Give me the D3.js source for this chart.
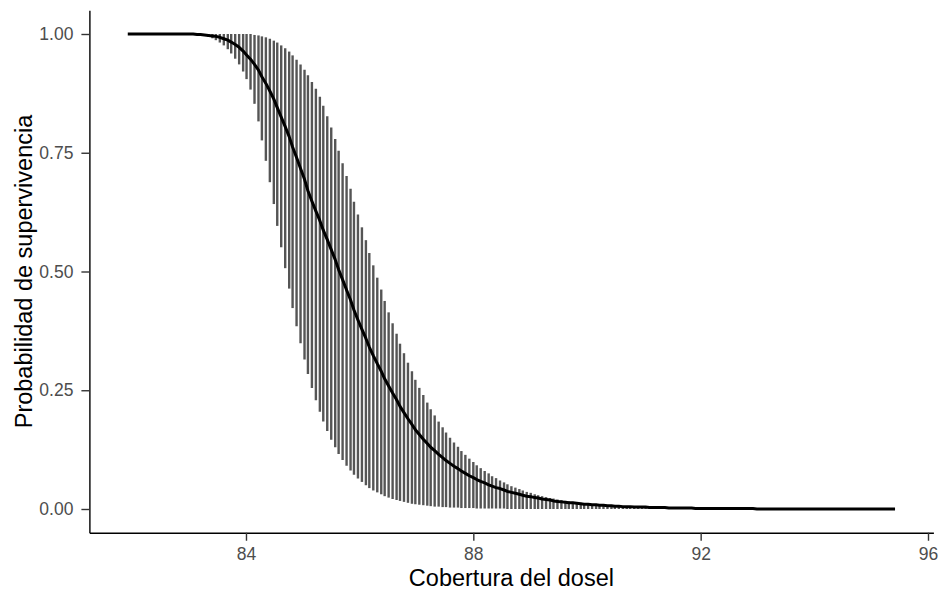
<!DOCTYPE html>
<html>
<head>
<meta charset="utf-8">
<script src="https://cdn.jsdelivr.net/npm/d3@7"></script>
<style>
  html, body { margin: 0; padding: 0; background: #ffffff; }
  svg { display: block; }
</style>
</head>
<body>
<script>
// ---------------- data ----------------
const coverage = [
81.92,81.99,82.06,82.12,82.19,82.26,82.33,82.39,82.46,82.53,
82.60,82.66,82.73,82.80,82.87,82.93,83.00,83.07,83.14,83.20,
83.27,83.34,83.41,83.47,83.54,83.61,83.68,83.74,83.81,83.88,
83.95,84.01,84.08,84.15,84.22,84.28,84.35,84.42,84.49,84.55,
84.62,84.69,84.76,84.82,84.89,84.96,85.03,85.09,85.16,85.23,
85.30,85.36,85.43,85.50,85.57,85.63,85.70,85.77,85.84,85.90,
85.97,86.04,86.11,86.17,86.24,86.31,86.38,86.44,86.51,86.58,
86.65,86.71,86.78,86.85,86.92,86.98,87.05,87.12,87.19,87.25,
87.32,87.39,87.46,87.52,87.59,87.66,87.73,87.79,87.86,87.93,
88.00,88.06,88.13,88.20,88.27,88.33,88.40,88.47,88.54,88.60,
88.67,88.74,88.81,88.87,88.94,89.01,89.08,89.14,89.21,89.28,
89.35,89.41,89.48,89.55,89.62,89.68,89.75,89.82,89.89,89.95,
90.02,90.09,90.16,90.22,90.29,90.36,90.43,90.49,90.56,90.63,
90.70,90.76,90.83,90.90,90.97,91.03,91.10,91.17,91.24,91.30,
91.37,91.44,91.51,91.57,91.64,91.71,91.78,91.84,91.91,91.98,
92.05,92.11,92.18,92.25,92.32,92.38,92.45,92.52,92.59,92.65,
92.72,92.79,92.86,92.92,92.99,93.06,93.13,93.19,93.26,93.33,
93.40,93.46,93.53,93.60,93.67,93.73,93.80,93.87,93.94,94.00,
94.07,94.14,94.21,94.27,94.34,94.41,94.48,94.54,94.61,94.68,
94.75,94.81,94.88,94.95,95.02,95.08,95.15,95.22,95.29,95.35,
95.42];

const fitted = [
1,1,1,1,1,1,1,1,1,1,
1,1,1,1,1,1,1,1,0.999,0.999,
0.998,0.997,0.996,0.995,0.993,0.990,0.987,0.983,0.978,0.972,
0.964,0.956,0.947,0.936,0.924,0.910,0.896,0.880,0.863,0.845,
0.825,0.805,0.784,0.762,0.740,0.717,0.694,0.670,0.648,0.627,
0.607,0.587,0.567,0.546,0.525,0.504,0.483,0.461,0.440,0.419,
0.398,0.378,0.359,0.341,0.323,0.306,0.290,0.274,0.259,0.244,
0.230,0.216,0.203,0.190,0.178,0.167,0.157,0.147,0.138,0.130,
0.123,0.115,0.108,0.102,0.096,0.090,0.085,0.080,0.075,0.070,
0.066,0.062,0.058,0.055,0.051,0.048,0.045,0.043,0.040,0.037,
0.035,0.033,0.031,0.029,0.027,0.026,0.024,0.023,0.021,0.020,
0.019,0.017,0.016,0.015,0.014,0.013,0.013,0.012,0.011,0.010,
0.010,0.009,0.009,0.008,0.008,0.007,0.007,0.006,0.006,0.005,
0.005,0.005,0.004,0.004,0.004,0.004,0.003,0.003,0.003,0.003,
0.003,0.002,0.002,0.002,0.002,0.002,0.002,0.002,0.001,0.001,
0.001,0.001,0.001,0.001,0.001,0.001,0.001,0.001,0.001,0.001,
0.001,0.001,0.001,0.001,0,0,0,0,0,0,
0,0,0,0,0,0,0,0,0,0,
0,0,0,0,0,0,0,0,0,0,
0,0,0,0,0,0,0,0,0,0,
0];

const lowerCI = [
1,1,1,1,1,1,1,1,1,1,
1,1,1,1,1,1,1,0.999,0.998,0.997,
0.996,0.994,0.991,0.987,0.982,0.976,0.968,0.959,0.948,0.936,
0.921,0.905,0.883,0.853,0.816,0.776,0.733,0.688,0.642,0.596,
0.551,0.507,0.464,0.423,0.385,0.349,0.315,0.284,0.255,0.229,
0.205,0.184,0.164,0.146,0.130,0.116,0.103,0.091,0.081,0.072,
0.064,0.057,0.050,0.044,0.039,0.035,0.031,0.027,0.024,0.021,
0.019,0.017,0.015,0.013,0.011,0.010,0.009,0.008,0.007,0.006,
0.005,0.005,0.004,0.004,0.003,0.003,0.003,0.002,0.002,0.002,
0.002,0.001,0.001,0.001,0.001,0.001,0.001,0.001,0.001,0,
0,0,0,0,0,0,0,0,0,0,
0,0,0,0,0,0,0,0,0,0,
0,0,0,0,0,0,0,0,0,0,
0,0,0,0,0,0,0,0,0,0,
0,0,0,0,0,0,0,0,0,0,
0,0,0,0,0,0,0,0,0,0,
0,0,0,0,0,0,0,0,0,0,
0,0,0,0,0,0,0,0,0,0,
0,0,0,0,0,0,0,0,0,0,
0,0,0,0,0,0,0,0,0,0,
0];

const upperCI = [
1,1,1,1,1,1,1,1,1,1,
1,1,1,1,1,1,1,1,1,1,
1,1,1,1,1,1,1,1,1,1,
1,1,1,0.998,0.997,0.995,0.993,0.990,0.986,0.982,
0.976,0.970,0.963,0.955,0.946,0.936,0.925,0.913,0.899,0.885,
0.868,0.849,0.827,0.803,0.779,0.754,0.728,0.701,0.674,0.647,
0.620,0.593,0.566,0.539,0.513,0.487,0.462,0.438,0.414,0.391,
0.369,0.348,0.328,0.308,0.290,0.272,0.255,0.240,0.224,0.210,
0.197,0.184,0.172,0.161,0.150,0.140,0.131,0.122,0.114,0.106,
0.099,0.092,0.086,0.080,0.075,0.069,0.065,0.060,0.056,0.052,
0.048,0.045,0.042,0.039,0.036,0.034,0.031,0.029,0.027,0.025,
0.023,0.022,0.020,0.019,0.017,0.016,0.015,0.014,0.013,0.012,
0.011,0.010,0.010,0.009,0.008,0.008,0.007,0.007,0.006,0.006,
0.005,0.005,0.005,0.004,0.004,0.004,0.003,0.003,0.003,0.003,
0.003,0.002,0.002,0.002,0.002,0.002,0.002,0.002,0.001,0.001,
0.001,0.001,0.001,0.001,0.001,0.001,0.001,0.001,0.001,0.001,
0.001,0.001,0.001,0.001,0,0,0,0,0,0,
0,0,0,0,0,0,0,0,0,0,
0,0,0,0,0,0,0,0,0,0,
0,0,0,0,0,0,0,0,0,0,
0];

const xTickValues = [84, 88, 92, 96];
const yTickValues = [0, 0.25, 0.5, 0.75, 1];
const xTitle = "Cobertura del dosel";
const yTitle = "Probabilidad de supervivencia";

// ---------------- layout ----------------
const W = 942, H = 595;
const panel = { left: 89.4, right: 933.4, top: 10.25, bottom: 532.75 };
const FONT = "'Liberation Sans', Arial, Helvetica, sans-serif";

const svg = d3.select("body").append("svg")
  .attr("width", W).attr("height", H)
  .attr("viewBox", `0 0 ${W} ${H}`);
svg.append("rect").attr("width", W).attr("height", H).attr("fill", "#ffffff");

const xExt = d3.extent(coverage);
const xPad = (xExt[1] - xExt[0]) * 0.05;
const x = d3.scaleLinear()
  .domain([xExt[0] - xPad, xExt[1] + xPad])
  .range([panel.left, panel.right]);
const y = d3.scaleLinear()
  .domain([-0.05, 1.05])
  .range([panel.bottom, panel.top]);

const rows = coverage.map((c, i) => ({ c, fit: fitted[i], lo: lowerCI[i], hi: upperCI[i] }));

// error bars
svg.append("g").attr("class", "bars")
  .selectAll("line").data(rows).join("line")
  .attr("x1", d => x(d.c)).attr("x2", d => x(d.c))
  .attr("y1", d => y(d.lo)).attr("y2", d => y(d.hi))
  .attr("stroke", "#555555")
  .attr("stroke-width", 2.4);

// fitted curve
svg.append("path")
  .datum(rows)
  .attr("fill", "none")
  .attr("stroke", "#000000")
  .attr("stroke-width", 3)
  .attr("stroke-linejoin", "round")
  .attr("stroke-linecap", "butt")
  .attr("d", d3.line().x(d => x(d.c)).y(d => y(d.fit)));

// axes
const xAxis = svg.append("g")
  .attr("transform", `translate(0,${panel.bottom})`)
  .call(d3.axisBottom(x).tickValues(xTickValues).tickFormat(d3.format("d"))
    .tickSizeInner(8).tickSizeOuter(0).tickPadding(7));
const yAxis = svg.append("g")
  .attr("transform", `translate(${panel.left},0)`)
  .call(d3.axisLeft(y).tickValues(yTickValues).tickFormat(d3.format(".2f"))
    .tickSizeInner(8).tickSizeOuter(0).tickPadding(8));

[xAxis, yAxis].forEach(g => {
  g.select(".domain").attr("stroke", "#000000").attr("stroke-width", 1.4);
  g.selectAll(".tick line").attr("stroke", "#333333").attr("stroke-width", 1.4);
  g.selectAll(".tick text")
    .attr("fill", "#4d4d4d")
    .style("font-family", FONT)
    .style("font-size", "17.5px");
});

// titles
svg.append("text")
  .attr("x", (panel.left + panel.right) / 2)
  .attr("y", 586)
  .attr("text-anchor", "middle")
  .style("font-family", FONT)
  .style("font-size", "23.5px")
  .attr("fill", "#000000")
  .text(xTitle);

svg.append("text")
  .attr("transform", `translate(32,${(panel.top + panel.bottom) / 2}) rotate(-90)`)
  .attr("text-anchor", "middle")
  .style("font-family", FONT)
  .style("font-size", "23.5px")
  .attr("fill", "#000000")
  .text(yTitle);
</script>
</body>
</html>
